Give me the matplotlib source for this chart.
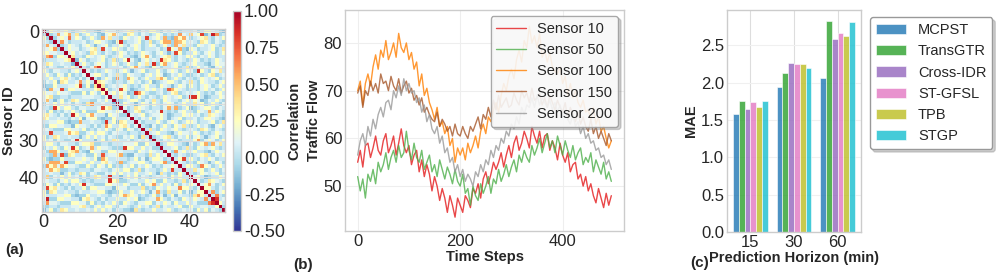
import numpy as np
import matplotlib
matplotlib.use("Agg")
import matplotlib.pyplot as plt

# ---- panel (a): sensor correlation matrix (upper triangle read per row, mirrored) ----
N_SENSORS = 50
LEVELS = {"b": -0.14, "c": -0.06, "d": 0.04, "e": 0.12, "y": 0.24, "Y": 0.36}
BG_ROWS = [
    "dcyedeydcd eyddcbdyee cdeyYdcedy ydcedyecdd decdyyedcb",
    "yecddeycdY cdydecbeyd edcYydcedc dyecdcdyed ceydbdeycd",
    "dydceyecdy ecdydcyeYd dcyedeydcd eyddcbdyee cdeyYdcedy",
    "ydcedyecdd decdyyedcb yecddeycdY cdydecbeyd edcYydcedc",
    "dyecdcdyed ceydbdeycd dydceyecdy ecdydcyeYd dcyedeydcd",
    "eyddcbdyee cdeyYdcedy ydcedyecdd decdyyedcb yecddeycdY",
    "cdydecbeyd edcYydcedc dyecdcdyed ceydbdeycd dydceyecdy",
    "ecdydcyeYd dcyedeydcd eyddcbdyee cdeyYdcedy ydcedyecdd",
    "decdyyedcb yecddeycdY cdydecbeyd edcYydcedc dyecdcdyed",
    "ceydbdeycd dydceyecdy ecdydcyeYd dcyedeydcd eyddcbdyee",
    "cdeyYdcedy ydcedyecdd decdyyedcb yecddeycdY cdydecbeyd",
    "edcYydcedc dyecdcdyed ceydbdeycd dydceyecdy ecdydcyeYd",
    "ddceydecdy bcdeyydced Ydcyeddcey dyebcedydc cdecdyYcde",
    "deydcdceyd dcyedbdyec ydceyecdyd dYeycdydce dcdyedeycd",
    "eeydbcddye ydecdYyedc ddceydecdy bcdeyydced Ydcyeddcey",
    "dyebcedydc cdecdyYcde deydcdceyd dcyedbdyec ydceyecdyd",
    "dYeycdydce dcdyedeycd eeydbcddye ydecdYyedc ddceydecdy",
    "bcdeyydced Ydcyeddcey dyebcedydc cdecdyYcde deydcdceyd",
    "dcyedbdyec ydceyecdyd dYeycdydce dcdyedeycd eeydbcddye",
    "ydecdYyedc ddceydecdy bcdeyydced Ydcyeddcey dyebcedydc",
    "cdecdyYcde deydcdceyd dcyedbdyec ydceyecdyd dYeycdydce",
    "dcdyedeycd eeydbcddye ydecdYyedc ddceydecdy bcdeyydced",
    "Ydcyeddcey dyebcedydc cdecdyYcde deydcdceyd dcyedbdyec",
    "ydceyecdyd dYeycdydce dcdyedeycd eeydbcddye ydecdYyedc",
    "dcyedeydcd edcYydcedc cdeyYdcedy ceydbdeycd decdyyedcb",
    "eyddcbdyee dyecdcdyed ydcedyecdd dydceyecdy yecddeycdY",
    "cdeyYdcedy ceydbdeycd decdyyedcb ecdydcyeYd cdydecbeyd",
    "ydcedyecdd dydceyecdy yecddeycdY dcyedeydcd edcYydcedc",
    "decdyyedcb ecdydcyeYd cdydecbeyd eyddcbdyee dyecdcdyed",
    "yecddeycdY dcyedeydcd edcYydcedc cdeyYdcedy ceydbdeycd",
    "cdydecbeyd eyddcbdyee dyecdcdyed ydcedyecdd dydceyecdy",
    "edcYydcedc cdeyYdcedy ceydbdeycd decdyyedcb ecdydcyeYd",
    "dyecdcdyed ydcedyecdd dydceyecdy yecddeycdY dcyedeydcd",
    "ceydbdeycd decdyyedcb ecdydcyeYd cdydecbeyd eyddcbdyee",
    "dydceyecdy yecddeycdY dcyedeydcd edcYydcedc cdeyYdcedy",
    "ecdydcyeYd cdydecbeyd eyddcbdyee dyecdcdyed ydcedyecdd",
    "Ydcyeddcey dcdyedeycd cdecdyYcde ydecdYyedc dcyedbdyec",
    "dyebcedydc eeydbcddye deydcdceyd ddceydecdy ydceyecdyd",
    "cdecdyYcde ydecdYyedc dcyedbdyec bcdeyydced dYeycdydce",
    "deydcdceyd ddceydecdy ydceyecdyd Ydcyeddcey dcdyedeycd",
    "dcyedbdyec bcdeyydced dYeycdydce dyebcedydc eeydbcddye",
    "ydceyecdyd Ydcyeddcey dcdyedeycd cdecdyYcde ydecdYyedc",
    "dYeycdydce dyebcedydc eeydbcddye deydcdceyd ddceydecdy",
    "dcdyedeycd cdecdyYcde ydecdYyedc dcyedbdyec bcdeyydced",
    "eeydbcddye deydcdceyd ddceydecdy ydceyecdyd Ydcyeddcey",
    "ydecdYyedc dcyedbdyec bcdeyydced dYeycdydce dyebcedydc",
    "ddceydecdy ydceyecdyd Ydcyeddcey dcdyedeycd cdecdyYcde",
    "bcdeyydced dYeycdydce dyebcedydc eeydbcddye deydcdceyd",
    "Ydcyeddcey dcdyedeycd cdecdyYcde ydecdYyedc dcyedbdyec",
    "dyebcedydc eeydbcddye deydcdceyd ddceydecdy ydceyecdyd",
]
# strongly correlated sensor pairs (row, col, value)
HOT_PAIRS = [
    (1, 4, 0.55), (1, 7, 0.55), (1, 19, 0.5), (1, 37, 0.6), (1, 40, 0.45),
    (1, 43, 0.8), (1, 46, 0.9), (1, 47, 0.6),
    (2, 7, 0.7), (2, 16, 0.55), (2, 28, 0.8), (2, 33, 0.55), (2, 36, 0.55), (2, 38, 0.55),
    (3, 5, 0.6), (3, 21, 0.85), (3, 33, 0.55), (3, 34, 0.55), (3, 36, 0.55), (3, 37, 0.5),
    (4, 36, 0.55), (5, 16, 0.8), (5, 34, 0.8), (5, 37, 0.55), (6, 36, 0.8), (7, 28, 0.55),
    (8, 23, 0.9), (8, 32, 0.85), (9, 30, 0.85), (9, 33, 0.55),
    (10, 14, 0.6), (10, 15, 0.85), (10, 25, 0.55), (11, 42, 0.85),
    (13, 20, 0.6), (13, 23, 0.55), (13, 32, 0.55),
    (16, 21, 0.8), (16, 34, 0.75), (16, 35, 0.55), (17, 25, 0.85), (17, 26, 0.6),
    (18, 40, 0.85), (18, 41, 0.85), (21, 34, 0.55), (21, 36, 0.55),
    (22, 32, 0.85), (22, 45, 0.55), (30, 42, 0.6), (31, 44, 0.55), (31, 46, 0.55),
    (33, 36, 0.6), (35, 38, 0.8), (37, 43, 0.65),
    (42, 45, 0.6), (44, 46, 0.6), (45, 47, 0.65), (46, 47, 0.85),
]

# ---- panel (b): traffic flow, sampled every 5 steps ----
TIME_STEPS = list(range(0, 500, 5))
SENSOR_LABELS = ["Sensor 10", "Sensor 50", "Sensor 100", "Sensor 150", "Sensor 200"]
SENSOR_10 = [
    55, 57.5, 54, 58.5, 59, 56, 58, 60.5, 57.5, 56.5,
    59.5, 61, 57, 58.5, 60.5, 56.5, 59, 62, 58.5, 57,
    58.5, 54.5, 56.5, 57.5, 53, 55.5, 52, 54.5, 52.5, 49,
    52, 50, 47, 49.5, 47.5, 44.5, 48, 46, 43.5, 47.5,
    46, 44.5, 48, 47, 45.5, 49.5, 48.5, 50.5, 47.5, 51.5,
    53, 50.5, 52.5, 55, 53.5, 55, 57, 54, 56.5, 58.5,
    56, 59, 60.5, 57.5, 59, 61.5, 60, 58, 62.5, 60.5,
    59, 61.5, 58, 60.5, 61, 57.5, 59.5, 58, 55.5, 59,
    56.5, 55, 57, 53, 54.5, 55, 51.5, 52.5, 50, 52,
    49, 50.5, 48, 46.5, 49.5, 47.5, 45.5, 48.5, 46, 48,
]
SENSOR_50 = [
    52, 49, 51.5, 47.5, 52.5, 51, 53.5, 50.5, 55, 53,
    54.5, 57, 53.5, 56, 57.5, 55, 58.5, 56, 57, 61.5,
    57.5, 55.5, 59, 56, 55, 57.5, 53.5, 55, 56.5, 53,
    54.5, 52, 55.5, 53.5, 51.5, 54, 52.5, 50.5, 53.5, 51,
    50, 52.5, 48.5, 49.5, 46, 50, 48, 47, 50.5, 48.5,
    50, 52, 48.5, 51.5, 50.5, 53.5, 51, 52.5, 54.5, 52,
    54, 55.5, 53, 56.5, 55, 57.5, 56, 55, 58.5, 56.5,
    58, 60, 57, 59, 61, 58, 59.5, 57, 60.5, 58.5,
    56.5, 59.5, 57.5, 56, 58.5, 55.5, 57, 58, 54.5, 56,
    55, 57, 53, 55.5, 54, 52.5, 55, 51.5, 53, 51,
]
SENSOR_100 = [
    70, 72, 67, 71.5, 73.5, 71, 75, 77.5, 74.5, 78.5,
    77, 80.5, 76.5, 78, 80, 77, 82, 79, 78, 80,
    76.5, 78, 74.5, 76, 71, 73.5, 69, 70.5, 67.5, 66,
    64, 66.5, 62.5, 63.5, 61, 62.5, 58.5, 60, 55, 58,
    56.5, 58, 55.5, 59, 57, 58.5, 60.5, 58, 61.5, 63,
    61, 64.5, 63.5, 66, 67.5, 65.5, 69, 71.5, 70, 73,
    74.5, 72.5, 76.5, 78.5, 76, 80.5, 79, 83.5, 80, 81.5,
    79, 82, 77, 78.5, 76, 78, 75, 74, 73.5, 75,
    71.5, 73, 69, 71.5, 68.5, 70, 67.5, 66.5, 68, 65.5,
    66, 64, 66.5, 63, 64.5, 61.5, 62.5, 60, 58, 59.5,
]
SENSOR_150 = [
    69.5, 71, 66.5, 70, 69, 72, 70, 71.5, 69.5, 73.5,
    71.5, 72, 70, 73, 71, 70, 72.5, 69.5, 71, 72,
    69.5, 70.5, 68, 69, 67, 68.5, 65.5, 66.5, 65, 64,
    63.5, 65.5, 62.5, 64, 63, 61.5, 62.5, 60.5, 63, 61,
    60.5, 62.5, 61, 60, 62.5, 61.5, 63, 64.5, 62, 65,
    64, 66.5, 64.5, 68, 66, 69, 66.5, 67.5, 68.5, 66.5,
    67, 69.5, 68, 67, 70, 68.5, 69.5, 67.5, 70.5, 68,
    68.5, 69.5, 67, 68.5, 66.5, 69, 67.5, 66, 68, 66.5,
    65.5, 67.5, 64, 66.5, 65, 63.5, 65.5, 63, 64.5, 62.5,
    61.5, 64, 61, 62.5, 60, 61.5, 60, 58.5, 61, 59.5,
]
SENSOR_200 = [
    56.5, 59.5, 61, 58.5, 62.5, 60.5, 64, 62, 65, 66.5,
    64.5, 67.5, 68, 66, 70, 68.5, 71, 69, 72.5, 70,
    71.5, 69.5, 70, 67.5, 68.5, 65.5, 67, 63.5, 65, 62,
    61, 62.5, 59, 60.5, 57, 58, 55, 56, 53, 54.5,
    52, 53.5, 51, 52.5, 51.5, 50, 53, 52, 54.5, 53,
    55.5, 54.5, 57.5, 56, 58.5, 57.5, 60, 59, 61.5, 60.5,
    63, 62, 64.5, 63, 66.5, 65, 67, 66.5, 68.5, 66.5,
    69, 67, 68.5, 67.5, 66.5, 68, 66, 67.5, 65.5, 67,
    64.5, 66, 64, 63, 65, 62.5, 63.5, 61, 62.5, 60,
    61, 59, 59.5, 57.5, 58, 56, 56.5, 54.5, 55.5, 53.5,
]
SENSOR_COLORS = ["#e41a1c", "#4daf4a", "#ff7f00", "#a65628", "#999999"]

# ---- panel (c): MAE per prediction horizon ----
HORIZONS = ["15", "30", "60"]
METHODS = ["MCPST", "TransGTR", "Cross-IDR", "ST-GFSL", "TPB", "STGP"]
MAE = {
    "MCPST": [1.58, 1.94, 2.06],
    "TransGTR": [1.76, 2.13, 2.83],
    "Cross-IDR": [1.64, 2.26, 2.58],
    "ST-GFSL": [1.74, 2.25, 2.66],
    "TPB": [1.67, 2.25, 2.63],
    "STGP": [1.75, 2.19, 2.81],
}
METHOD_COLORS = ["#1f77b4", "#2ca02c", "#9467bd", "#e377c2", "#bcbd22", "#17becf"]

plt.style.use("seaborn-v0_8-whitegrid")
plt.rcParams["font.family"] = ["Liberation Sans", "DejaVu Sans"]

W, H = 997, 277
fig = plt.figure(figsize=(W / 100, H / 100), dpi=100)


def px_axes(x0, y0, x1, y1):
    return fig.add_axes([x0 / W, 1 - y1 / H, (x1 - x0) / W, (y1 - y0) / H])


# (a) heatmap
rows = [r.replace(" ", "") for r in BG_ROWS]
corr = np.eye(N_SENSORS)
for i in range(N_SENSORS):
    for j in range(i + 1, N_SENSORS):
        corr[i, j] = corr[j, i] = LEVELS[rows[i][j]]
for i, j, v in HOT_PAIRS:
    corr[i, j] = corr[j, i] = v

ax_a = px_axes(41.7, 29.3, 225, 211.7)
im = ax_a.imshow(corr, cmap="RdYlBu_r", vmin=-0.5, vmax=1.0, aspect="auto",
                 interpolation="nearest")
ax_a.set_xticks([0, 20, 40])
ax_a.set_yticks([0, 10, 20, 30, 40])
ax_a.tick_params(labelsize=13, pad=2)
ax_a.set_xlabel("Sensor ID", fontsize=10.5, fontweight="bold", labelpad=1)
ax_a.set_ylabel("Sensor ID", fontsize=10.5, fontweight="bold", labelpad=2)
ax_a.grid(True, color="#dddddd", linewidth=0.8)

cax = px_axes(232.7, 10.7, 241.3, 230.7)
cb = fig.colorbar(im, cax=cax, ticks=[-0.5, -0.25, 0, 0.25, 0.5, 0.75, 1.0])
cb.ax.tick_params(labelsize=13, pad=2)
cb.ax.yaxis.set_major_formatter(matplotlib.ticker.FormatStrFormatter("%.2f"))
cb.set_label("Correlation", fontsize=10.5, fontweight="bold", labelpad=2)
cb.outline.set_edgecolor("#cccccc")

# (b) time series
ax_b = px_axes(345, 10, 624, 231)
for label, series, color in zip(SENSOR_LABELS,
                                 [SENSOR_10, SENSOR_50, SENSOR_100, SENSOR_150, SENSOR_200],
                                 SENSOR_COLORS):
    ax_b.plot(TIME_STEPS, series, color=color, linewidth=1.0, alpha=0.8, label=label)
ax_b.set_xticks([0, 200, 400])
ax_b.set_yticks([50, 60, 70, 80])
ax_b.set_ylim(40.6, 86.9)
ax_b.tick_params(labelsize=12, pad=2)
ax_b.set_xlabel("Time Steps", fontsize=10.5, fontweight="bold", labelpad=1)
ax_b.set_ylabel("Traffic Flow", fontsize=10.5, fontweight="bold", labelpad=2)
ax_b.grid(True, color="#eeeeee")
leg = ax_b.legend(loc="upper right", fontsize=10.5, frameon=True,
                  shadow={"color": "0.5", "alpha": 0.35},
                  framealpha=0.85, handlelength=2.0, borderaxespad=0.4)
leg.get_frame().set_edgecolor("#999999")

# (c) grouped bars
ax_c = px_axes(727, 10, 861, 232)
x = np.arange(len(HORIZONS))
width = 0.8 / len(METHODS)
for k, (method, color) in enumerate(zip(METHODS, METHOD_COLORS)):
    ax_c.bar(x + (k - 2.5) * width, MAE[method], width, color=color, alpha=0.8,
             edgecolor="white", linewidth=0.5, label=method)
ax_c.set_xticks(x)
ax_c.set_xticklabels(HORIZONS)
ax_c.set_yticks([0, 0.5, 1.0, 1.5, 2.0, 2.5])
ax_c.tick_params(labelsize=12, pad=2)
ax_c.set_xlabel("Prediction Horizon (min)", fontsize=10.5, fontweight="bold", labelpad=1)
ax_c.set_ylabel("MAE", fontsize=10.5, fontweight="bold", labelpad=2)
ax_c.grid(True, axis="y", color="#f0f0f0")
ax_c.grid(True, axis="x", color="#dddddd")
leg_c = ax_c.legend(loc="upper left", bbox_to_anchor=(1.067, 0.968), borderaxespad=0,
                    fontsize=10.5, frameon=True,
                    shadow={"color": "0.5", "alpha": 0.35}, framealpha=1,
                    handlelength=2.1)
leg_c.get_frame().set_edgecolor("#999999")

fig.text(5 / W, 1 - 250 / H, "(a)", fontsize=11, fontweight="bold", va="center")
fig.text(293 / W, 1 - 265 / H, "(b)", fontsize=11, fontweight="bold", va="center")
fig.text(690 / W, 1 - 263 / H, "(c)", fontsize=11, fontweight="bold", va="center")

fig.savefig("out.png", dpi=100)
